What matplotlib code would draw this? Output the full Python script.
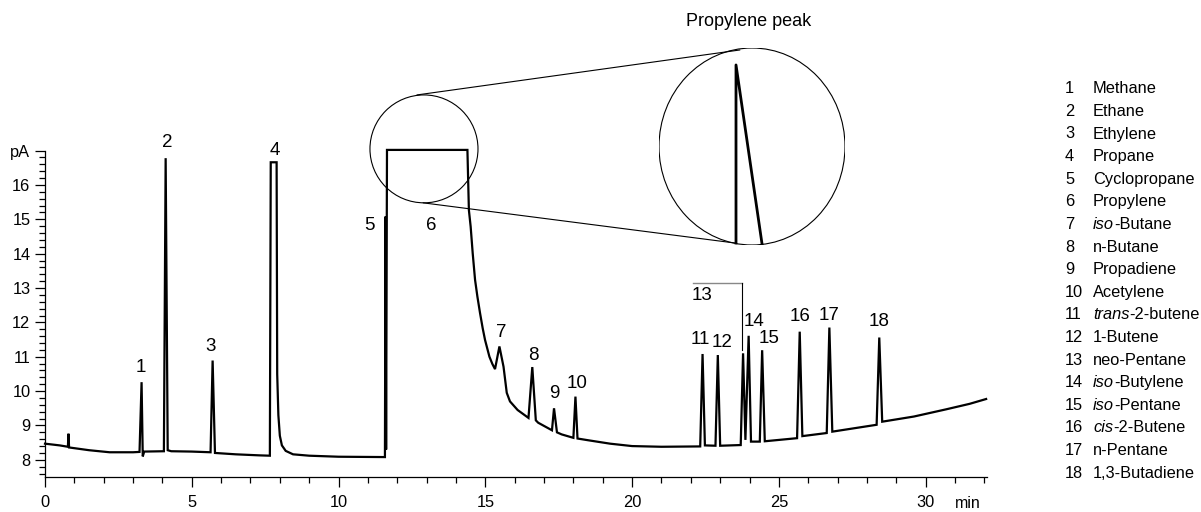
import matplotlib.pyplot as plt
from matplotlib.patches import Ellipse, ConnectionPatch
from matplotlib.ticker import MultipleLocator

plt.rcParams['font.family'] = ['Liberation Sans', 'DejaVu Sans']

# chromatogram trace (time in min, signal in pA)
trace_t = [0.0, 0.5, 0.78, 0.80, 0.82, 1.5, 2.2, 3.0, 3.22, 3.29, 3.33, 3.38,
           4.05, 4.11, 4.18, 4.3, 5.0, 5.64, 5.71, 5.79, 6.5, 7.3, 7.66, 7.69,
           7.89, 7.91, 7.95, 8.0, 8.07, 8.2, 8.45, 9.0, 10.0, 11.58, 11.60,
           11.62, 11.65, 14.39, 14.44, 14.50, 14.57, 14.65, 14.73, 14.82, 14.91,
           14.99, 15.14, 15.24, 15.33, 15.48, 15.62, 15.73, 15.84, 16.1, 16.47,
           16.60, 16.72, 16.8, 17.27, 17.34, 17.44, 17.6, 18.0, 18.07, 18.14,
           18.5, 19.25, 20.0, 21.0, 22.32, 22.40, 22.48, 22.84, 22.92, 23.0,
           23.70, 23.78, 23.86, 23.97, 24.05, 24.35, 24.43, 24.52, 25.62, 25.71,
           25.8, 26.63, 26.72, 26.82, 28.33, 28.42, 28.52, 29.6, 30.7, 31.5, 32.06]
trace_v = [8.47, 8.42, 8.38, 8.76, 8.36, 8.28, 8.22, 8.22, 8.23, 10.26, 8.10, 8.24,
           8.25, 16.78, 8.28, 8.25, 8.24, 8.22, 10.89, 8.20, 8.16, 8.13, 8.12, 16.66,
           16.66, 10.5, 9.3, 8.7, 8.42, 8.26, 8.16, 8.12, 8.09, 8.08, 15.08,
           8.3, 17.02, 17.02, 15.27, 14.79, 14.01, 13.24, 12.75, 12.27, 11.83,
           11.49, 11.0, 10.79, 10.64, 11.30, 10.71, 9.95, 9.70, 9.45, 9.22,
           10.70, 9.15, 9.08, 8.86, 9.50, 8.80, 8.74, 8.64, 9.84, 8.62,
           8.57, 8.47, 8.40, 8.38, 8.39, 11.08, 8.42, 8.41, 11.05, 8.41,
           8.43, 11.10, 8.58, 11.61, 8.53, 8.53, 11.19, 8.54, 8.63, 11.73,
           8.69, 8.78, 11.85, 8.82, 9.02, 11.56, 9.11, 9.26, 9.47, 9.63, 9.77]

# peak number labels
label_text = [str(i) for i in range(1, 19)]
label_t = [3.27, 4.15, 5.64, 7.84, 11.05, 13.16, 15.55, 16.62, 17.34, 18.14,
           22.32, 23.06, 22.39, 24.16, 24.67, 25.72, 26.71, 28.42]
label_v = [10.68, 17.24, 11.30, 17.0, 14.81, 14.81, 11.70, 11.05, 9.92, 10.23,
           11.49, 11.42, 12.78, 12.02, 11.52, 12.17, 12.19, 12.02]

compounds = [('', 'Methane'), ('', 'Ethane'), ('', 'Ethylene'), ('', 'Propane'),
             ('', 'Cyclopropane'), ('', 'Propylene'), ('iso', '-Butane'),
             ('', 'n-Butane'), ('', 'Propadiene'), ('', 'Acetylene'),
             ('trans', '-2-butene'), ('', '1-Butene'), ('', 'neo-Pentane'),
             ('iso', '-Butylene'), ('iso', '-Pentane'), ('cis', '-2-Butene'),
             ('', 'n-Pentane'), ('', '1,3-Butadiene')]

# zoomed propylene peak top (inset units)
zoom_x = [0.414, 0.414, 0.554]
zoom_y = [0.01, 0.914, 0.005]

W, H = 1201, 512
fig = plt.figure(figsize=(W / 100, H / 100), dpi=100)
ax = fig.add_axes([45 / W, 1 - 477 / H, 942.3 / W, 326.4 / H])

ax.plot(trace_t, trace_v, color='black', lw=1.6, clip_on=False, solid_joinstyle='miter')
ax.set_xlim(0, 32.1)
ax.set_ylim(7.5, 17.0)

for s in ['top', 'right']:
    ax.spines[s].set_visible(False)
for s in ['left', 'bottom']:
    ax.spines[s].set_linewidth(0.9)

ax.xaxis.set_major_locator(MultipleLocator(5))
ax.xaxis.set_minor_locator(MultipleLocator(1))
ax.set_yticks(range(8, 18))
ax.set_yticklabels([str(v) for v in range(8, 17)] + ['pA'])
ax.yaxis.set_minor_locator(MultipleLocator(0.2))
ax.tick_params(which='major', length=7.5, width=0.9, labelsize=11.8, pad=3)
ax.tick_params(which='minor', length=4.2, width=0.9)
ax.tick_params(axis='x', pad=5.5)
fig.text(968 / W, 1 - 503 / H, 'min', ha='center', va='center', fontsize=11.5)

for txt, t, v in zip(label_text, label_t, label_v):
    ax.text(t, v, txt, ha='center', va='center', fontsize=13.5, clip_on=False)

# neo-Pentane bracket
ax.plot([22.08, 23.75], [13.14, 13.14], color='#888888', lw=1.0, clip_on=False)
ax.plot([23.75, 23.75], [13.14, 11.2], color='black', lw=0.8, clip_on=False)

# small circle round the propylene peak top
ax.add_patch(Ellipse((12.91, 17.05), 3.68, 3.14, fill=False, lw=0.8,
                     color='black', clip_on=False))

# inset
ins = fig.add_axes([659 / W, 1 - 245 / H, 186 / W, 197 / H])
ins.set_xlim(0, 1)
ins.set_ylim(0, 1)
ins.axis('off')
ins.add_patch(Ellipse((0.5, 0.5), 1, 1, fill=False, lw=0.8, color='black'))
ins.plot(zoom_x, zoom_y, color='black', lw=2.0)
ins.text(0.484, 1.137, 'Propylene peak', ha='center', va='center', fontsize=13)

for (t, v), (px, py) in [((12.67, 18.62), (0.435, 0.99)), ((12.88, 15.48), (0.409, 0.01))]:
    fig.add_artist(ConnectionPatch((t, v), (px, py), coordsA=ax.transData,
                                   coordsB=ins.transData, lw=0.8, color='black'))

# compound list
for i, (it, rest) in enumerate(compounds):
    y = 1 - (93.3 + 22.6 * i) / H
    fig.text(1065 / W, y, str(i + 1), ha='left', va='baseline', fontsize=11.8)
    if it:
        a = fig.text(1093 / W, y, it, ha='left', va='baseline', fontsize=11.8, style='italic')
        ax.annotate(rest, xy=(1, 0), xycoords=a, va='bottom', ha='left',
                    fontsize=11.8, annotation_clip=False)
    else:
        fig.text(1093 / W, y, rest, ha='left', va='baseline', fontsize=11.8)

fig.savefig('out.png', dpi=100)
